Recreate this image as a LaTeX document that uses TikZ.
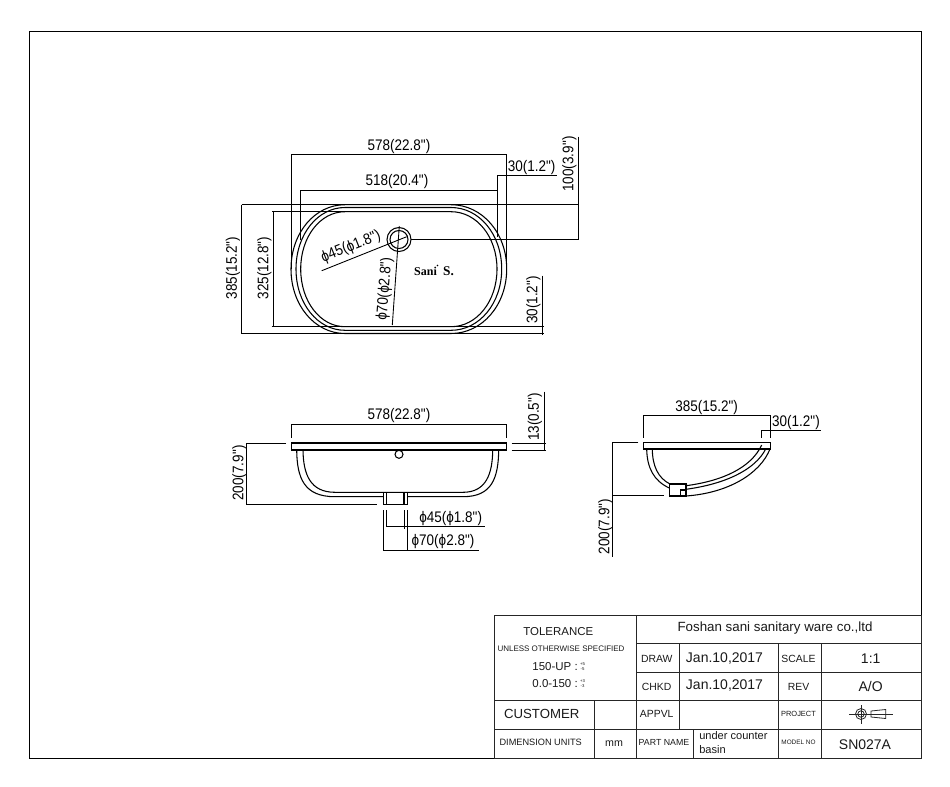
\documentclass[tikz,border=0pt]{standalone}
\usepackage{fontspec}
\setmainfont{Liberation Sans}
\newfontfamily\dimfont[FakeStretch=.88]{Liberation Sans}
\newfontfamily\logofont{Liberation Serif}
\tikzset{
  dimline/.style={line width=.65pt},
  bodyline/.style={line width=.8pt},
  sheetline/.style={line width=.75pt, black!85},
  dimlabel/.style={font=\dimfont\fontsize{11.5}{12}\selectfont, inner sep=0pt},
  sheetlabel/.style={inner sep=0pt, align=center, black!90}
}
\begin{document}
\begin{tikzpicture}[x=.75pt, y=-.75pt]
    \useasboundingbox (0,0) rectangle (950,786);
    % sheet frame
    \draw [line width=.7pt] (29,31) rectangle (921,758);

    % top view: basin outline
    \foreach \xl/\xr/\yt/\yb in {291/506.7/204.7/333.5, 296/501.7/207.5/330.3, 300.7/497/211.7/326.7} {
      \draw [bodyline] (345,\yt) -- (451,\yt)
        .. controls ({451+.56*(\xr-451)},\yt) and (\xr,{269-.56*(269-\yt)}) .. (\xr,269)
        .. controls (\xr,{269+.56*(\yb-269)}) and ({451+.56*(\xr-451)},\yb) .. (451,\yb)
        -- (345,\yb)
        .. controls ({345-.56*(345-\xl)},\yb) and (\xl,{269+.56*(\yb-269)}) .. (\xl,269)
        .. controls (\xl,{269-.56*(269-\yt)}) and ({345-.56*(345-\xl)},\yt) .. (345,\yt) -- cycle;
    }
    % top view: drain
    \draw [bodyline] (399,239.5) circle (12);
    \draw [bodyline] (399,239.5) circle (9);
    % top view: dimension lines
    \draw [dimline] (291,269) -- (291,154.7) -- (506.7,154.7) -- (506.7,269);
    \draw [dimline] (300.7,240) -- (300.7,190.3) -- (497,190.3);
    \draw [dimline] (497,237) -- (497,175) -- (556.7,175);
    \draw [dimline] (241.7,204.7) -- (578.3,204.7);
    \draw [dimline] (578.3,136.7) -- (578.3,239.5) -- (411,239.5);
    \draw [dimline] (241.7,204.7) -- (241.7,333.5) -- (345,333.5);
    \draw [dimline] (348,211.7) -- (271.7,211.7);
    \draw [dimline] (273.3,211.7) -- (273.3,326.7);
    \draw [dimline] (271.7,326.7) -- (544,326.7);
    \draw [dimline] (451,333.5) -- (544,333.5);
    \draw [dimline] (542.3,275.7) -- (542.3,335);
    \draw [dimline] (321.7,270.7) -- (406.7,236.7);
    \draw [dimline] (392.3,325) -- (399.3,226);
    % top view: labels
    \node [dimlabel] (topWidth) at (399,147) {578(22.8")};
    \node [dimlabel] (topInner) at (397,182) {518(20.4")};
    \node [dimlabel] (topRim) at (531.7,168) {30(1.2")};
    \node [dimlabel, rotate=90] (topDrainPos) at (569.5,164) {100(3.9")};
    \node [dimlabel, rotate=90] (topDepth) at (233,268) {385(15.2")};
    \node [dimlabel, rotate=90] (topInnerDepth) at (264.5,268) {325(12.8")};
    \node [dimlabel, rotate=90] (topRimSide) at (533.5,300) {30(1.2")};
    \node [dimlabel, rotate=21.8] (topHole) at (351,247) {ϕ45(ϕ1.8")};
    \node [dimlabel, rotate=85.5] (topFlange) at (385,289) {ϕ70(ϕ2.8")};
    % top view: maker's mark
    \node [inner sep=0pt, font=\logofont\bfseries\fontsize{9}{9}\selectfont] (markName) at (425.5,271) {Sani};
    \node [inner sep=0pt, font=\logofont\bfseries\fontsize{10}{10}\selectfont] (markShield) at (448.5,271) {S.};
    \fill (437.5,265.5) circle (.9);

    % front view: basin
    \draw [bodyline] (291.7,443) rectangle (506.7,450);
    \draw [line width=1.1pt] (291.7,443) -- (506.7,443);
    \draw [bodyline] (296.7,450) .. controls (297,478) and (304,496.7) .. (335,496.7) -- (383.3,496.7);
    \draw [bodyline] (303,450) .. controls (303.3,474) and (310,492.3) .. (335,492.3) -- (463,492.3)
      .. controls (486,492.3) and (492.5,474) .. (492.7,450);
    \draw [bodyline] (407.3,496.7) -- (463,496.7) .. controls (492,496.7) and (498.3,478) .. (498.7,450);
    \draw [bodyline] (383.3,492.3) rectangle (407.3,504.3);
    \draw [bodyline] (386.7,492.3) -- (386.7,504.3);
    \draw [bodyline] (404,492.3) -- (404,504.3);
    \draw [bodyline] (399,454.3) circle (4);
    % front view: dimension lines
    \draw [dimline] (291.7,437.7) -- (291.7,424.3) -- (506.7,424.3) -- (506.7,437.7);
    \draw [dimline] (286,443) -- (246,443) -- (246,504.3) -- (377.3,504.3);
    \draw [dimline] (511.7,443) -- (545.7,443);
    \draw [dimline] (511.7,450) -- (545.7,450);
    \draw [dimline] (544,391.7) -- (544,451);
    \draw [dimline] (386.7,510) -- (386.7,526.7) -- (485,526.7);
    \draw [dimline] (404,510) -- (404,529);
    \draw [dimline] (383.3,510) -- (383.3,550) -- (479.3,550);
    \draw [dimline] (407.3,510) -- (407.3,550);
    % front view: labels
    \node [dimlabel] (frontWidth) at (399,416) {578(22.8")};
    \node [dimlabel, rotate=90] (frontHeight) at (239.5,473) {200(7.9")};
    \node [dimlabel, rotate=90] (frontRim) at (535,417) {13(0.5")};
    \node [dimlabel] (frontHole) at (450.7,519) {ϕ45(ϕ1.8")};
    \node [dimlabel] (frontFlange) at (443,542) {ϕ70(ϕ2.8")};

    % side view: basin
    \draw [bodyline] (643.3,442.7) rectangle (770.3,449);
    \draw [line width=1.1pt] (643.3,442.7) -- (770.3,442.7);
    \draw [bodyline] (646.7,449) .. controls (647,468) and (654,481) .. (669.3,488);
    \draw [bodyline] (652.3,449) .. controls (652.5,466) and (658,478) .. (670,484);
    \draw [bodyline] (686,485.7) .. controls (722,481) and (751,468) .. (761.7,445);
    \draw [bodyline] (686,489.3) .. controls (725,484) and (755,470) .. (765.7,449);
    \draw [bodyline] (686,496) .. controls (728,493) and (760,474) .. (770,449);
    \draw [bodyline] (669.3,484) rectangle (686,496);
    \draw [bodyline] (680.3,496) -- (680.3,490) -- (686,490);
    % side view: dimension lines
    \draw [dimline] (643.3,437.7) -- (643.3,415.7) -- (770.3,415.7) -- (770.3,437.7);
    \draw [dimline] (761.7,437.7) -- (761.7,430) -- (821,430);
    \draw [dimline] (638.3,442.7) -- (612.7,442.7) -- (612.7,556.7);
    \draw [dimline] (612.7,495.7) -- (664,495.7);
    % side view: labels
    \node [dimlabel] (sideWidth) at (706.7,408) {385(15.2")};
    \node [dimlabel] (sideRim) at (796,423) {30(1.2")};
    \node [dimlabel, rotate=90] (sideHeight) at (605.5,526.7) {200(7.9")};

    % title block: grid
    \draw [sheetline] (494.3,615.7) rectangle (921,758);
    \draw [sheetline] (636.7,615.7) -- (636.7,758);
    \draw [sheetline] (636.7,643.3) -- (921,643.3);
    \draw [sheetline] (636.7,672.3) -- (921,672.3);
    \draw [sheetline] (494.3,700.7) -- (921,700.7);
    \draw [sheetline] (494.3,729.3) -- (921,729.3);
    \draw [sheetline] (594,700.7) -- (594,758);
    \draw [sheetline] (679,643.3) -- (679,729.3);
    \draw [sheetline] (693.3,729.3) -- (693.3,758);
    \draw [sheetline] (778.7,643.3) -- (778.7,758);
    \draw [sheetline] (821,643.3) -- (821,758);
    % title block: left column
    \node [sheetlabel, font=\fontsize{8.6}{10}\selectfont] (tolerance) at (558.3,632) {TOLERANCE};
    \node [sheetlabel, font=\fontsize{6}{7}\selectfont] (unless) at (561,649) {UNLESS OTHERWISE SPECIFIED};
    \node [sheetlabel, font=\fontsize{8.6}{10}\selectfont, anchor=east] (upperRange) at (578,666.7) {150-UP :};
    \node [sheetlabel, font=\fontsize{3.2}{4.2}\selectfont] (upperTol) at (582.5,666.7) {+5\\-5};
    \node [sheetlabel, font=\fontsize{8.6}{10}\selectfont, anchor=east] (lowerRange) at (578,683.5) {0.0-150 :};
    \node [sheetlabel, font=\fontsize{3.2}{4.2}\selectfont] (lowerTol) at (582.5,683.5) {+3\\-3};
    \node [sheetlabel, font=\fontsize{9.9}{12}\selectfont] (customer) at (541.7,713.5) {CUSTOMER};
    \node [sheetlabel, font=\fontsize{6.9}{8}\selectfont] (units) at (540.7,742.7) {DIMENSION UNITS};
    \node [sheetlabel, font=\fontsize{8}{10}\selectfont] (unitsValue) at (614,743.5) {mm};
    % title block: middle column
    \node [sheetlabel, font=\fontsize{10}{12}\selectfont] (company) at (775,628) {Foshan sani sanitary ware co.,ltd};
    \node [sheetlabel, font=\fontsize{7.8}{9}\selectfont] (draw) at (656.7,658.5) {DRAW};
    \node [sheetlabel, font=\fontsize{7.8}{9}\selectfont] (chkd) at (656.7,686.7) {CHKD};
    \node [sheetlabel, font=\fontsize{7.8}{9}\selectfont] (appvl) at (656.7,714) {APPVL};
    \node [sheetlabel, font=\fontsize{6.6}{8}\selectfont] (partName) at (664,742.7) {PART NAME};
    \node [sheetlabel, font=\fontsize{10.5}{12}\selectfont] (drawDate) at (724.5,658) {Jan.10,2017};
    \node [sheetlabel, font=\fontsize{10.5}{12}\selectfont] (chkdDate) at (724.5,685.5) {Jan.10,2017};
    \node [sheetlabel, font=\fontsize{8.3}{10.5}\selectfont, align=left, anchor=west] (partValue) at (699,743) {under counter\\basin};
    % title block: right column
    \node [sheetlabel, font=\fontsize{7.8}{9}\selectfont] (scale) at (798.5,658.5) {SCALE};
    \node [sheetlabel, font=\fontsize{7.8}{9}\selectfont] (rev) at (798.5,686.7) {REV};
    \node [sheetlabel, font=\fontsize{5.6}{7}\selectfont] (project) at (798.5,714) {PROJECT};
    \node [sheetlabel, font=\fontsize{4.8}{6}\selectfont] (modelNo) at (798.5,742.7) {MODEL NO};
    \node [sheetlabel, font=\fontsize{10.5}{12}\selectfont] (scaleValue) at (870.7,658.5) {1:1};
    \node [sheetlabel, font=\fontsize{10.5}{12}\selectfont] (revValue) at (870.7,686.7) {A/O};
    \node [sheetlabel, font=\fontsize{10.5}{12}\selectfont] (model) at (865,744.5) {SN027A};
    % title block: projection symbol
    \draw [sheetline, line width=.6pt] (849.3,714) -- (892.7,714);
    \draw [sheetline, line width=.6pt] (861,705) -- (861,724);
    \draw [sheetline, line width=.6pt] (861,714) circle (5.5);
    \draw [sheetline, line width=.6pt] (861,714) circle (3.2);
    \draw [sheetline, line width=.6pt] (871,711) -- (885.7,709.5) -- (885.7,718.5) -- (871,717) -- cycle;
\end{tikzpicture}
\end{document}
